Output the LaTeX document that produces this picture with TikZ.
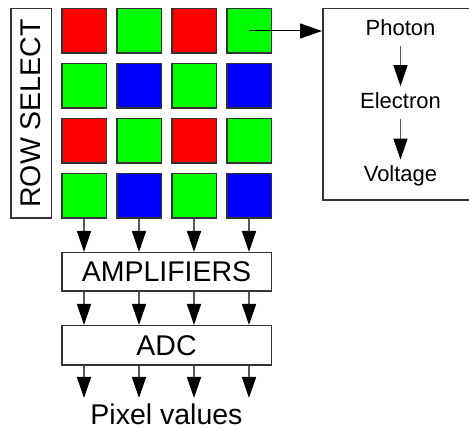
\documentclass[tikz,border=0pt]{standalone}
\usepackage{fontspec}
\setmainfont{Liberation Sans}
\usetikzlibrary{arrows.meta,positioning}

\begin{document}
\begin{tikzpicture}[x=1pt,y=-1pt,
  pixel/.style={draw=black!80, line width=1.5pt, minimum size=44.5pt, inner sep=0pt},
  box/.style={draw=black!80, line width=1.5pt, inner sep=0pt, font=\fontsize{28.5}{32}\selectfont},
  stage/.style={font=\fontsize{22}{26}\selectfont, text height=16pt, text depth=4pt, inner sep=6pt},
  arr/.style={draw=black!65, line width=1.5pt, -{Triangle[length=21pt,width=14pt,color=black]}},
  thinarr/.style={draw=black, line width=1pt, -{Triangle[length=22pt,width=15pt,color=black]}}]
\useasboundingbox (0,0) rectangle (469,430);

% colour filter array
\foreach \r/\ca/\cb in {1/red/green,2/green/blue,3/red/green,4/green/blue}
  \foreach \c/\col in {1/\ca,2/\cb,3/\ca,4/\cb}
    \node[pixel, fill=\col] (px\r\c) at (29+55*\c, -24+55*\r) {};

\node[box, rotate=90, minimum width=209.5pt, minimum height=40.5pt] (rsel) at (31,113.5) {ROW SELECT};

% readout chain
\node[box, minimum width=209.5pt, minimum height=38.5pt] (amp) at (166.5,272) {AMPLIFIERS};
\node[box, minimum width=209.5pt, minimum height=39.5pt] (adc) at (166.5,345.5) {ADC};
\node[font=\fontsize{28.5}{32}\selectfont, anchor=base, inner sep=0pt] (pv) at (166.5,425) {Pixel values};

\foreach \c in {1,...,4} {
  \path (adc.south -| px4\c.center) ++(0,32) coordinate (out\c);
  \draw[arr] (px4\c.south) -- (px4\c.south |- amp.north);
  \draw[arr] (amp.south -| px4\c.center) -- (adc.north -| px4\c.center);
  \draw[arr] (adc.south -| px4\c.center) -- (out\c);
}

% photon to voltage
\node[draw=black!80, line width=1.5pt, minimum width=148.25pt, minimum height=191.5pt] (conv) at (396.9,104.5) {};
\node[stage] (photon) at (400.5,29.5) {Photon};
\node[stage, below=40.5pt of photon] (electron) {Electron};
\node[stage, below=41pt of electron] (voltage) {Voltage};
\draw[arr] (photon) -- (electron);
\draw[arr] (electron) -- (voltage);
\draw[thinarr] (px14.center) -- (px14.center -| conv.west);
\end{tikzpicture}
\end{document}
